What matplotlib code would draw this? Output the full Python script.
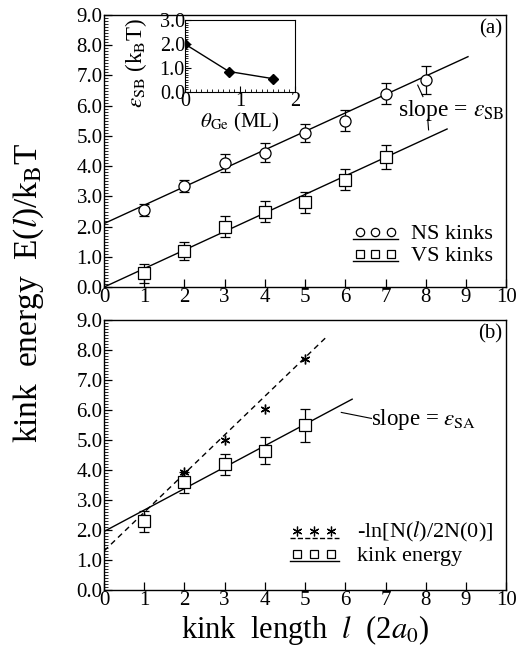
import numpy as np
import matplotlib
matplotlib.use('Agg')
import matplotlib.pyplot as plt
from matplotlib.lines import Line2D
from matplotlib.legend_handler import HandlerBase
from matplotlib.ticker import MultipleLocator, FormatStrFormatter

plt.rcParams['font.family'] = ['Liberation Serif', 'DejaVu Serif']
plt.rcParams['mathtext.fontset'] = 'stix'

# panel (a) data
kink_len_a = [1, 2, 3, 4, 5, 6, 7, 8]
ns_energy = [2.55, 3.35, 4.1, 4.45, 5.1, 5.5, 6.4, 6.85]
ns_err = [0.2, 0.2, 0.3, 0.3, 0.3, 0.35, 0.35, 0.45]
ns_fit = [2.1, 0.61]          # intercept, slope
vs_len = [1, 2, 3, 4, 5, 6, 7]
vs_energy = [0.45, 1.2, 2.0, 2.5, 2.8, 3.55, 4.3]
vs_err = [0.3, 0.3, 0.35, 0.35, 0.35, 0.35, 0.4]
vs_fit = [0.0, 0.613]

# inset data
theta_ge = [0.0, 0.8, 1.6]
eps_sb = [2.0, 0.85, 0.55]

# panel (b) data
kink_len_b = [1, 2, 3, 4, 5]
lnN = [2.4, 3.95, 5.0, 6.05, 7.7]
lnN_fit = [1.3, 1.29]
kink_e = [2.3, 3.6, 4.2, 4.65, 5.5]
kink_e_err = [0.35, 0.35, 0.35, 0.45, 0.55]
kink_fit = [1.95, 0.715]


class Underlined(HandlerBase):
    # three markers sitting above a short underline
    def create_artists(self, legend, orig_handle, xdescent, ydescent,
                       width, height, fontsize, trans):
        x0, x1 = -xdescent, width - xdescent
        line = Line2D([x0, x1], [-ydescent, -ydescent], color='black',
                      lw=1.0, ls=orig_handle.get_linestyle(), transform=trans)
        xs = np.linspace(x0 + 0.15 * width, x1 - 0.15 * width, 3)
        marks = Line2D(xs, np.full(3, height * 0.45 - ydescent), ls='none',
                       marker=orig_handle.get_marker(),
                       ms=orig_handle.get_markersize(),
                       mfc=orig_handle.get_markerfacecolor(),
                       mec='black', mew=0.9, transform=trans)
        return [line, marks]


def style_axes(ax):
    ax.set_xlim(0, 10)
    ax.set_ylim(0, 9)
    ax.xaxis.set_major_locator(MultipleLocator(1))
    ax.yaxis.set_major_locator(MultipleLocator(1))
    ax.yaxis.set_minor_locator(MultipleLocator(0.1))
    ax.yaxis.set_major_formatter(FormatStrFormatter('%.1f'))
    ax.tick_params(direction='in', top=False, right=False, labelsize=15,
                   length=6, width=0.9, pad=1)
    ax.tick_params(which='minor', direction='in', length=3, width=0.6)
    for s in ax.spines.values():
        s.set_linewidth(1.0)


fig = plt.figure(figsize=(5.21, 6.51), dpi=100)
ax1 = fig.add_axes([0.1996, 0.559, 0.772, 0.418])
ax2 = fig.add_axes([0.1996, 0.0937, 0.772, 0.4147])
style_axes(ax1)
style_axes(ax2)

# ---- panel (a)
xa = np.array([0, 9.05])
ax1.plot(xa, ns_fit[0] + ns_fit[1] * xa, color='black', lw=1.0)
xv = np.array([0, 8.53])
ax1.plot(xv, vs_fit[0] + vs_fit[1] * xv, color='black', lw=1.0)
ax1.errorbar(kink_len_a, ns_energy, yerr=ns_err, fmt='o', ms=8, mfc='white',
             mec='black', mew=0.9, ecolor='black', elinewidth=0.9, capsize=3.5)
ax1.errorbar(vs_len, vs_energy, yerr=vs_err, fmt='s', ms=8, mfc='white',
             mec='black', mew=0.9, ecolor='black', elinewidth=0.9, capsize=3.5)
h_ns = Line2D([], [], ls='-', marker='o', ms=6, mfc='white')
h_vs = Line2D([], [], ls='-', marker='s', ms=6, mfc='white')
ax1.legend([h_ns, h_vs], ['NS kinks', 'VS kinks'], loc='lower right',
           bbox_to_anchor=(1.0, 0.03), frameon=False, fontsize=16,
           handler_map={Line2D: Underlined()}, handlelength=2.0,
           handletextpad=0.6, labelspacing=0.05, borderaxespad=0.2)
ax1.text(0.99, 0.985, '(a)', transform=ax1.transAxes, ha='right', va='top',
         fontsize=15)
ax1.text(9.95, 5.85, r'slope = $\varepsilon_{\rm SB}$', ha='right',
         va='center', fontsize=17)
ax1.plot([7.8, 7.93], [6.68, 6.3], color='black', lw=0.8)
ax1.plot([8.05, 8.07], [5.55, 5.2], color='black', lw=0.8)

# inset
axi = fig.add_axes([0.355, 0.859, 0.211, 0.110])
axi.plot(theta_ge, eps_sb, color='black', lw=1.0, marker='D', ms=5.5,
         mfc='black', mec='black')
axi.set_xlim(0, 2)
axi.set_ylim(0, 3)
axi.xaxis.set_major_locator(MultipleLocator(1))
axi.xaxis.set_minor_locator(MultipleLocator(0.1))
axi.yaxis.set_major_locator(MultipleLocator(1))
axi.yaxis.set_minor_locator(MultipleLocator(0.1))
axi.yaxis.set_major_formatter(FormatStrFormatter('%.1f'))
axi.tick_params(direction='in', labelsize=14.5, length=4, width=0.8, pad=0)
axi.tick_params(which='minor', direction='in', length=2.5, width=0.6)
axi.set_xlabel(r'$\theta_{\rm Ge}$ (ML)', fontsize=15, labelpad=0)
axi.set_ylabel(r'$\varepsilon_{\rm SB}$ (k$_{\rm B}$T)', fontsize=16.5,
               labelpad=0)
axi.yaxis.set_label_coords(-0.33, 0.4)

# ---- panel (b)
xd = np.array([0, 5.57])
ax2.plot(xd, lnN_fit[0] + lnN_fit[1] * xd, color='black', lw=1.0,
         ls=(0, (4, 3)))
xk = np.array([0, 6.17])
ax2.plot(xk, kink_fit[0] + kink_fit[1] * xk, color='black', lw=1.0)
ax2.plot(kink_len_b, lnN, ls='none', marker=(6, 2, 0), ms=7, mec='black',
         mew=1.0)
ax2.errorbar(kink_len_b, kink_e, yerr=kink_e_err, fmt='s', ms=8, mfc='white',
             mec='black', mew=0.9, ecolor='black', elinewidth=0.9, capsize=3.5)
h_ln = Line2D([], [], ls=(0, (3, 2)), marker=(6, 2, 0), ms=7, mfc='black')
h_ke = Line2D([], [], ls='-', marker='s', ms=6, mfc='white')
ax2.legend([h_ln, h_ke], [r'-ln[N($l$)/2N(0)]', 'kink energy'],
           loc='lower right', bbox_to_anchor=(1.0, 0.04), frameon=False,
           fontsize=16, handler_map={Line2D: Underlined()}, handlelength=2.2,
           handletextpad=0.8, labelspacing=0.05, borderaxespad=0.2)
ax2.text(0.99, 0.985, '(b)', transform=ax2.transAxes, ha='right', va='top',
         fontsize=15)
ax2.text(6.65, 5.7, r'slope = $\varepsilon_{\rm SA}$', ha='left', va='center',
         fontsize=16.5)
ax2.plot([5.9, 6.65], [5.92, 5.72], color='black', lw=0.8)
ax2.set_xlabel(r'kink  length  $l$  (2$a_0$)', fontsize=22, labelpad=2)

fig.text(0.055, 0.551, r'kink  energy  E($l$)/k$_{\rm B}$T', rotation=90,
         ha='center', va='center', fontsize=24)

fig.savefig('out.png', dpi=100, facecolor='white')
